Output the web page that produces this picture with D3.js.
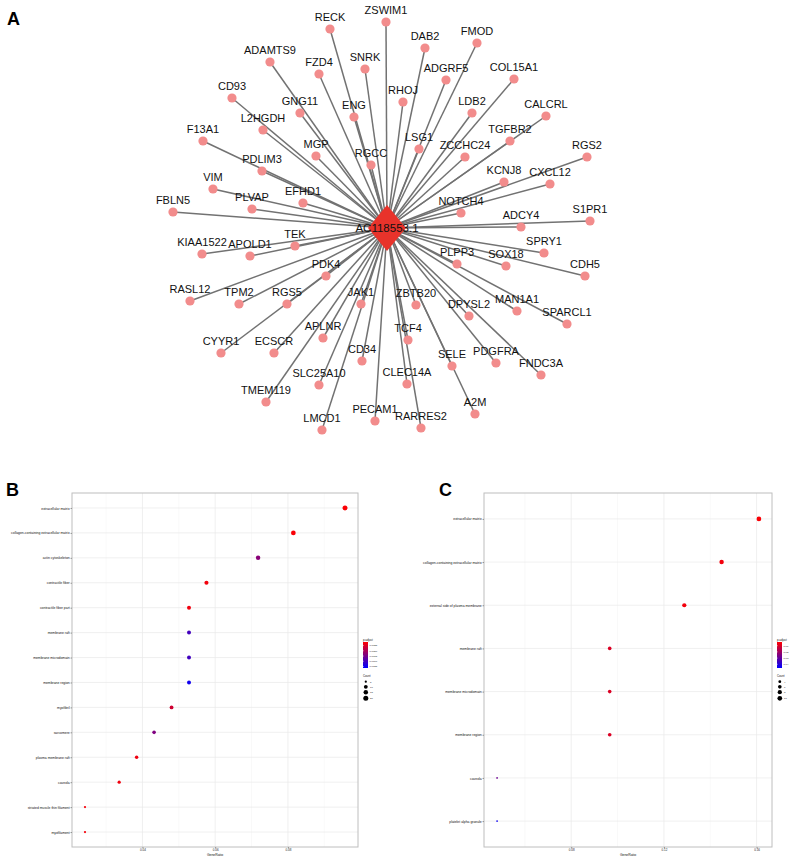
<!DOCTYPE html>
<html>
<head>
<meta charset="utf-8">
<script src="https://cdn.jsdelivr.net/npm/d3@7"></script>
<style>
  body { margin: 0; background: #fff; }
  text { font-family: "Liberation Sans", Arial, sans-serif; }
</style>
</head>
<body>
<div id="chart"></div>
<script>
// ---- Panel A: lncRNA hub and its co-expressed genes (layout coords relative to the hub) ----
const hubName = 'AC118553.1';
const genes = ['RECK','ZSWIM1','ADAMTS9','FZD4','SNRK','CD93','GNG11','ENG','L2HGDH','F13A1',
  'MGP','RGCC','PDLIM3','VIM','EFHD1','PLVAP','FBLN5','TEK','KIAA1522','APOLD1',
  'PDK4','RASL12','TPM2','RGS5','JAK1','APLNR','CYYR1','ECSCR','CD34','SLC25A10',
  'TMEM119','PECAM1','LMCD1','DAB2','FMOD','ADGRF5','COL15A1','RHOJ','LDB2','CALCRL',
  'TGFBR2','LSG1','ZCCHC24','RGS2','KCNJ8','CXCL12','NOTCH4','S1PR1','ADCY4','SPRY1',
  'PLPP3','SOX18','CDH5','ZBTB20','MAN1A1','DPYSL2','SPARCL1','TCF4','SELE','PDGFRA',
  'FNDC3A','CLEC14A','A2M','RARRES2'];
const layoutX = [-57,-1,-117,-68,-22,-155,-87,-33,-124,-184,
  -71,-16,-125,-174,-84,-135,-214,-92,-185,-137,
  -61,-197,-148,-100,-26,-64,-166,-113,-25,-68,
  -121,-12,-65,38,90,59,127,16,85,159,
  123,32,78,200,117,163,74,203,134,157,
  70,119,198,29,130,82,180,21,65,109,
  154,20,88,34];
const layoutY = [-199,-206,-166,-154,-159,-130,-115,-111,-98,-87,
  -72,-63,-57,-39,-25,-19,-16,18,26,28,
  48,73,76,76,76,110,125,125,133,157,
  174,193,202,-180,-185,-148,-149,-126,-115,-112,
  -87,-79,-71,-71,-46,-44,-15,-7,-1,25,
  36,38,48,77,83,88,96,112,138,135,
  147,156,186,200];

// ---- Panel B: GO cellular component (first gene set) ----
const termsB = ['extracellular matrix','collagen-containing extracellular matrix','actin cytoskeleton',
  'contractile fiber','contractile fiber part','membrane raft','membrane microdomain','membrane region',
  'myofibril','sarcomere','plasma membrane raft','caveola','striated muscle thin filament','myofilament'];
const ratioB = [0.0957,0.0815,0.0718,0.0576,0.0528,0.0528,0.0528,0.0528,0.048,0.0432,0.0384,0.0336,0.0242,0.0242];
const countB = [20,17,15,12,11,11,11,11,10,9,8,7,5,5];
const padjB = [0.0010,0.0011,0.0066,0.0014,0.0015,0.0100,0.0101,0.0124,0.0032,0.0070,0.0016,0.0015,0.0013,0.0013];
const xTicksB = [0.04,0.06,0.08];
const xMinorB = [0.03,0.05,0.07,0.09];
const padjTicksB = [0.0025,0.0050,0.0075,0.0100,0.0125];
const countTicksB = [5,10,15,20];

// ---- Panel C: GO cellular component (second gene set) ----
const termsC = ['extracellular matrix','collagen-containing extracellular matrix','external side of plasma membrane',
  'membrane raft','membrane microdomain','membrane region','caveola','platelet alpha granule'];
const ratioC = [0.161,0.1449,0.1288,0.0966,0.0966,0.0966,0.048,0.048];
const countC = [10,9,8,6,6,6,3,3];
const padjC = [0.005,0.006,0.006,0.010,0.010,0.010,0.028,0.044];
const xTicksC = [0.08,0.12,0.16];
const xMinorC = [0.06,0.10,0.14];
const padjTicksC = [0.01,0.02,0.03,0.04];
const countTicksC = [4,6,8,10];

const W = 792, H = 860;
const svg = d3.select('#chart').append('svg')
    .attr('width', W)
    .attr('height', H);

// panel letters
[['A', 7, 25], ['B', 6, 496], ['C', 439, 496]].forEach(([t, px, py]) => {
    svg.append('text').attr('x', px).attr('y', py)
        .attr('font-size', 18).attr('font-weight', 'bold').text(t);
});

// ---------- network ----------
const hx = 387, hy = 228;
const nx = d3.scaleLinear().domain([-220, 220]).range([hx - 220, hx + 220]);
const ny = d3.scaleLinear().domain([-220, 220]).range([hy - 220, hy + 220]);
const nodes = genes.map((g, i) => ({ id: g, x: layoutX[i], y: layoutY[i] }));

const net = svg.append('g');
net.append('g')
    .attr('stroke', '#727272')
    .attr('stroke-width', 1.5)
    .selectAll('line')
    .data(nodes)
    .join('line')
    .attr('x1', nx(0)).attr('y1', ny(0))
    .attr('x2', d => nx(d.x)).attr('y2', d => ny(d.y));

net.append('g')
    .selectAll('circle')
    .data(nodes)
    .join('circle')
    .attr('cx', d => nx(d.x))
    .attr('cy', d => ny(d.y))
    .attr('r', 4.6)
    .attr('fill', '#F28C8C');

net.append('g')
    .selectAll('text')
    .data(nodes)
    .join('text')
    .attr('x', d => nx(d.x))
    .attr('y', d => ny(d.y) - 8.5)
    .attr('text-anchor', 'middle')
    .attr('font-size', 11)
    .attr('fill', '#111')
    .text(d => d.id);

const dw = 19, dh = 23;
net.append('path')
    .attr('d', `M${nx(0)},${ny(0) - dh}L${nx(0) + dw},${ny(0)}L${nx(0)},${ny(0) + dh}L${nx(0) - dw},${ny(0)}Z`)
    .attr('fill', '#E8332B');
net.append('text')
    .attr('x', nx(0)).attr('y', ny(0) + 4)
    .attr('text-anchor', 'middle')
    .attr('font-size', 11.5)
    .attr('fill', '#111')
    .text(hubName);

// ---------- dot plots ----------
function dotPanel(cfg) {
    const g = svg.append('g');
    const ext = d3.extent(cfg.ratio);
    const pad = (ext[1] - ext[0]) * 0.05;
    const x = d3.scaleLinear().domain([ext[0] - pad, ext[1] + pad]).range([cfg.left, cfg.right]);
    const y = d3.scalePoint().domain(cfg.terms).range([cfg.top, cfg.bottom]).padding(0.6);
    const col = d3.scaleLinear().domain(cfg.padjDomain).range(['#FF0000', '#0000FF'])
        .interpolate(d3.interpolateRgb);
    const cExt = d3.extent(cfg.count);
    const r = c => cfg.rMin + (cfg.rMax - cfg.rMin) * Math.sqrt((c - cExt[0]) / (cExt[1] - cExt[0]));

    // grid
    g.append('g').attr('stroke', '#F3F3F3').attr('stroke-width', 0.5)
        .selectAll('line').data(cfg.xMinor).join('line')
        .attr('x1', d => x(d)).attr('x2', d => x(d))
        .attr('y1', cfg.top).attr('y2', cfg.bottom);
    g.append('g').attr('stroke', '#EAEAEA').attr('stroke-width', 0.7)
        .selectAll('line').data(cfg.xTicks).join('line')
        .attr('x1', d => x(d)).attr('x2', d => x(d))
        .attr('y1', cfg.top).attr('y2', cfg.bottom);
    g.append('g').attr('stroke', '#EAEAEA').attr('stroke-width', 0.7)
        .selectAll('line').data(cfg.terms).join('line')
        .attr('x1', cfg.left).attr('x2', cfg.right)
        .attr('y1', d => y(d)).attr('y2', d => y(d));

    // points
    g.append('g').selectAll('circle')
        .data(cfg.terms.map((t, i) => ({ t, v: cfg.ratio[i], c: cfg.count[i], p: cfg.padj[i] })))
        .join('circle')
        .attr('cx', d => x(d.v))
        .attr('cy', d => y(d.t))
        .attr('r', d => r(d.c))
        .attr('fill', d => col(d.p));

    // border
    g.append('rect')
        .attr('x', cfg.left).attr('y', cfg.top)
        .attr('width', cfg.right - cfg.left).attr('height', cfg.bottom - cfg.top)
        .attr('fill', 'none').attr('stroke', '#BEBEBE').attr('stroke-width', 1);

    // axes
    const ax = g.append('g').attr('transform', `translate(0,${cfg.bottom})`)
        .call(d3.axisBottom(x).tickValues(cfg.xTicks).tickSize(1.5).tickPadding(0.8)
            .tickFormat(d3.format('.2f')));
    ax.select('.domain').remove();
    ax.selectAll('line').attr('stroke', '#444').attr('stroke-width', 0.5);
    ax.selectAll('text').attr('font-size', 3).attr('fill', '#222').attr('font-family', null);

    const ay = g.append('g').attr('transform', `translate(${cfg.left},0)`)
        .call(d3.axisLeft(y).tickSize(1.5).tickPadding(0.8));
    ay.select('.domain').remove();
    ay.selectAll('line').attr('stroke', '#444').attr('stroke-width', 0.5);
    ay.selectAll('text').attr('font-size', 3.4).attr('fill', '#111').attr('font-family', null);

    g.append('text')
        .attr('x', (cfg.left + cfg.right) / 2).attr('y', cfg.bottom + 8.5)
        .attr('text-anchor', 'middle').attr('font-size', 3.4).attr('fill', '#111')
        .text('GeneRatio');

    // colour legend
    const lx = cfg.legendX, barTop = 642, barBot = 668;
    const gid = 'grad' + cfg.id;
    const grad = svg.append('defs').append('linearGradient')
        .attr('id', gid).attr('x1', 0).attr('x2', 0).attr('y1', 0).attr('y2', 1);
    d3.range(0, 1.0001, 0.1).forEach(t => {
        grad.append('stop').attr('offset', t)
            .attr('stop-color', col(cfg.padjDomain[0] + t * (cfg.padjDomain[1] - cfg.padjDomain[0])));
    });
    g.append('text').attr('x', lx).attr('y', barTop - 1.2)
        .attr('font-size', 2.8).attr('fill', '#111').text('p.adjust');
    g.append('rect').attr('x', lx).attr('y', barTop).attr('width', 5).attr('height', barBot - barTop)
        .attr('fill', `url(#${gid})`);
    const ly = d3.scaleLinear().domain(cfg.padjDomain).range([barTop, barBot]);
    g.append('g').selectAll('text').data(cfg.padjTicks).join('text')
        .attr('x', lx + 6.5).attr('y', d => ly(d) + 0.9)
        .attr('font-size', 2.5).attr('fill', '#222')
        .text(d => cfg.padjFormat(d));
    g.append('g').attr('stroke', '#fff').attr('stroke-width', 0.4)
        .selectAll('line').data(cfg.padjTicks).join('line')
        .attr('x1', lx).attr('x2', lx + 1).attr('y1', d => ly(d)).attr('y2', d => ly(d));

    // size legend
    const sy = [681.7, 686.8, 692.2, 698.3];
    g.append('text').attr('x', lx).attr('y', 677)
        .attr('font-size', 2.8).attr('fill', '#111').text('Count');
    g.append('g').selectAll('circle').data(cfg.countTicks).join('circle')
        .attr('cx', lx + 2.8).attr('cy', (d, i) => sy[i])
        .attr('r', d => r(d)).attr('fill', '#000');
    g.append('g').selectAll('text').data(cfg.countTicks).join('text')
        .attr('x', lx + 7).attr('y', (d, i) => sy[i] + 0.9)
        .attr('font-size', 2.5).attr('fill', '#222').text(d => d);
}

dotPanel({
    id: 'B', terms: termsB, ratio: ratioB, count: countB, padj: padjB,
    xTicks: xTicksB, xMinor: xMinorB, padjTicks: padjTicksB, countTicks: countTicksB,
    padjDomain: [0.0008, 0.0132], padjFormat: d3.format('.4f'),
    left: 72, right: 358, top: 493, bottom: 847, rMin: 1.1, rMax: 2.5, legendX: 363
});
dotPanel({
    id: 'C', terms: termsC, ratio: ratioC, count: countC, padj: padjC,
    xTicks: xTicksC, xMinor: xMinorC, padjTicks: padjTicksC, countTicks: countTicksC,
    padjDomain: [0.004, 0.046], padjFormat: d3.format('.2f'),
    left: 484, right: 772, top: 493, bottom: 847, rMin: 0.85, rMax: 2.35, legendX: 777
});
</script>
</body>
</html>
